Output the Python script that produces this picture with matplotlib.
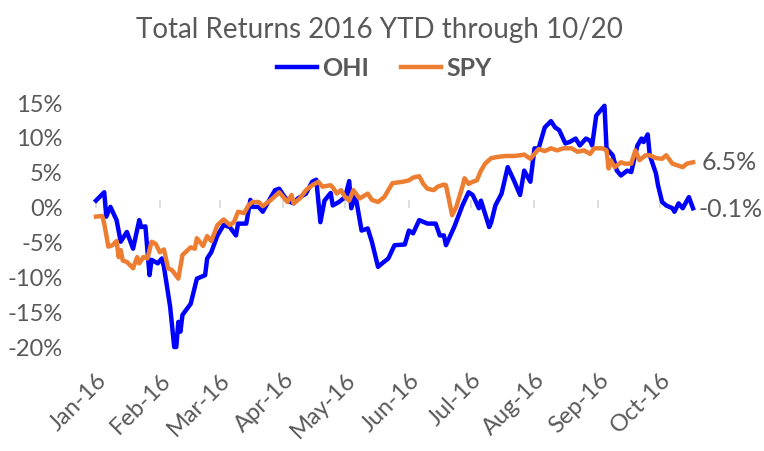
import numpy as np
import pandas as pd
import matplotlib
matplotlib.use("Agg")
import matplotlib.pyplot as plt
import matplotlib.dates as mdates
from matplotlib.ticker import FuncFormatter

plt.rcParams['font.family'] = ['Lato', 'DejaVu Sans']

start = pd.Timestamp('2016-01-04')

# days after Jan 4 2016, total return in %
ohi_days = [0, 4, 5, 7, 10, 12, 15, 18, 21, 22, 24, 26, 27, 30, 32, 33, 36, 38, 39, 40,
            41, 42, 46, 49, 53, 54, 56, 59, 62, 65, 68, 69, 73, 75, 76, 79, 81, 85, 87, 89,
            91, 93, 96, 98, 102, 105, 107, 109, 111, 114, 115, 118, 121, 123, 124, 126, 129, 132, 134, 137,
            139, 142, 145, 150, 152, 154, 157, 161, 165, 167, 169, 170, 174, 178, 181, 183, 186, 187, 189, 191,
            192, 194, 197, 200, 203, 206, 208, 211, 213, 215, 218, 221, 223, 225, 228, 230, 233, 235, 238, 240,
            241, 243, 247, 248, 251, 253, 255, 258, 260, 263, 265, 266, 268, 269, 272, 273, 275, 277, 280, 281,
            283, 285, 288, 290]
ohi_ret = [1.0, 2.2, -1.3, 0.1, -1.8, -4.9, -3.5, -5.9, -1.8, -2.8, -2.7, -9.7, -7.5, -8.0, -7.3, -8.5, -14.2, -20.0, -20.0, -16.4,
           -17.8, -15.4, -13.8, -10.2, -9.7, -7.3, -6.4, -4.0, -2.5, -2.8, -4.0, -2.3, -2.3, 1.1, 0.1, 0.1, -0.6, 1.5, 2.5, 2.7,
           1.8, 1.0, 0.6, 1.3, 2.0, 3.7, 4.0, -2.1, 1.0, 2.1, 0.3, 0.8, 1.5, 3.8, -0.1, 1.8, -3.3, -3.0, -4.9, -8.5,
           -8.0, -7.3, -5.4, -5.3, -3.3, -3.7, -1.8, -2.3, -2.3, -4.0, -4.0, -5.4, -2.8, 0.3, 2.2, 1.8, -0.1, 1.0, -0.9, -2.8,
           -2.1, 0.3, 2.0, 5.8, 3.9, 1.8, 5.3, 3.7, 8.5, 8.5, 11.5, 12.4, 11.5, 11.1, 9.2, 9.4, 9.9, 8.9, 9.9, 9.6,
           8.9, 13.2, 14.6, 8.5, 7.5, 5.3, 4.6, 5.3, 5.1, 8.9, 9.9, 9.4, 10.5, 7.5, 4.9, 3.2, 0.8, 0.3, -0.1, -0.6,
           0.6, -0.1, 1.5, -0.1]

spy_days = [0, 3, 4, 6, 8, 10, 11, 12, 13, 15, 18, 20, 21, 23, 25, 27, 29, 31, 33, 35,
            37, 40, 42, 46, 48, 49, 52, 54, 56, 59, 62, 65, 67, 69, 72, 74, 76, 79, 81, 85,
            89, 91, 93, 95, 96, 99, 102, 105, 108, 110, 114, 115, 117, 119, 121, 123, 125, 128, 132, 134,
            137, 140, 142, 144, 149, 152, 154, 157, 159, 161, 164, 166, 169, 170, 173, 175, 178, 179, 181, 183,
            185, 187, 189, 192, 196, 199, 203, 206, 208, 211, 213, 215, 218, 221, 224, 227, 231, 234, 237, 240,
            242, 246, 248, 249, 250, 252, 255, 257, 260, 262, 264, 267, 269, 272, 275, 277, 280, 282, 285, 287,
            290]
spy_ret = [-1.3, -1.2, -2.3, -5.6, -5.4, -4.8, -7.1, -6.1, -7.6, -7.8, -8.7, -7.1, -8.0, -7.1, -7.3, -4.9, -5.2, -6.4, -6.0, -8.7,
           -9.0, -10.2, -6.8, -5.7, -5.9, -4.4, -5.5, -4.1, -4.8, -2.5, -1.7, -2.5, -2.1, -0.6, -0.8, 0.3, 0.8, 0.8, 0.2, 1.1,
           2.2, 1.5, 0.8, 1.8, 0.6, 1.3, 2.5, 3.2, 3.7, 3.0, 3.2, 2.9, 2.0, 2.5, 1.5, 1.0, 2.5, 1.3, 2.0, 1.1,
           0.8, 1.5, 2.5, 3.5, 3.7, 3.9, 4.3, 4.5, 3.4, 2.7, 2.5, 3.0, 3.3, 3.2, -1.1, 0.1, 3.0, 4.2, 3.4, 3.7,
           3.9, 5.3, 6.3, 7.1, 7.3, 7.4, 7.4, 7.5, 7.6, 7.0, 7.7, 8.4, 8.1, 8.5, 8.2, 8.5, 8.5, 8.0, 8.2, 7.7,
           8.5, 8.5, 8.2, 5.6, 6.8, 5.8, 6.5, 6.3, 6.3, 8.2, 6.8, 7.5, 7.5, 7.1, 7.0, 7.5, 6.3, 6.1, 5.8, 6.3,
           6.5]

month_labels = ['Jan-16', 'Feb-16', 'Mar-16', 'Apr-16', 'May-16', 'Jun-16',
                'Jul-16', 'Aug-16', 'Sep-16', 'Oct-16']
end_date = pd.Timestamp('2016-10-20')

ohi_x = start + pd.to_timedelta(ohi_days, unit='D')
spy_x = start + pd.to_timedelta(spy_days, unit='D')
ohi_y = np.array(ohi_ret) / 100
spy_y = np.array(spy_ret) / 100

grey = '#595959'
fig = plt.figure(figsize=(7.64, 4.51), dpi=100)
ax = fig.add_axes([96 / 764, 1 - 347 / 451, (693 - 96) / 764, (347 - 103) / 451])

l1, = ax.plot(ohi_x, ohi_y, color='#0000FF', lw=3.2, clip_on=False, label='OHI', zorder=3)
l2, = ax.plot(spy_x, spy_y, color='#ED7D31', lw=3.2, clip_on=False, label='SPY', zorder=3)

ax.set_xlim(start, end_date)
ax.set_ylim(-0.20, 0.15)
ax.set_yticks(np.arange(-0.20, 0.151, 0.05))
ax.yaxis.set_major_formatter(FuncFormatter(lambda v, p: f'{round(v * 100):d}%'))

ticks = [start + pd.DateOffset(months=i) for i in range(10)]
ax.set_xticks(ticks)
ax.set_xticklabels(month_labels, rotation=45, ha='right', va='top', rotation_mode='anchor')
ax.tick_params(axis='x', length=0, pad=16, labelsize=17, labelcolor=grey)
ax.tick_params(axis='y', length=0, pad=24, labelsize=17, labelcolor=grey)
for s in ax.spines.values():
    s.set_visible(False)

# category line at zero with its tick marks
zero_ax = ax.secondary_xaxis(0.20 / 0.35)
zero_ax.set_xticks(ticks)
zero_ax.set_xticklabels([])
zero_ax.tick_params(axis='x', direction='out', length=6, color='#d9d9d9', width=1.2)
zero_ax.spines['bottom'].set_color('#d9d9d9')
zero_ax.spines['bottom'].set_linewidth(1.2)
for s in ['top', 'left', 'right']:
    zero_ax.spines[s].set_visible(False)

ax.annotate(f'{spy_ret[-1]:.1f}%', (spy_x[-1], spy_y[-1]), xytext=(6, 0), textcoords='offset points',
            va='center', ha='left', fontsize=18, color=grey, annotation_clip=False)
ax.annotate(f'{ohi_ret[-1]:.1f}%', (ohi_x[-1], ohi_y[-1]), xytext=(4, -1), textcoords='offset points',
            va='center', ha='left', fontsize=18, color=grey, annotation_clip=False)

fig.text(0.497, 1 - 30 / 451, 'Total Returns 2016 YTD through 10/20', ha='center', va='center',
         fontsize=20, color=grey)
leg = fig.legend(handles=[l1, l2], loc='center', bbox_to_anchor=(0.503, 1 - 68 / 451), ncol=2,
                 frameon=False, handlelength=1.6, handletextpad=0.2, columnspacing=1.3,
                 prop={'weight': 'bold', 'size': 18})
for t in leg.get_texts():
    t.set_color(grey)

fig.savefig('out.png', dpi=100)
